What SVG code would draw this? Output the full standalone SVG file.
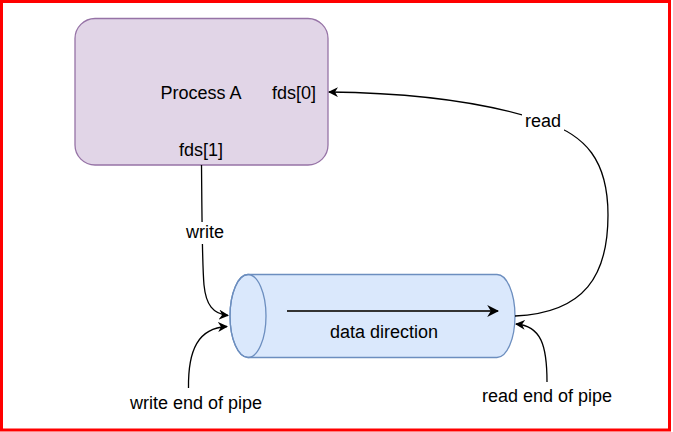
<svg xmlns="http://www.w3.org/2000/svg" width="673" height="432" viewBox="0 0 673 432">
  <style>
    text { font-family: "Liberation Sans", Arial, sans-serif; font-size: 18px; fill: #000; }
    .edge { fill: none; stroke: #000; stroke-width: 1.3; }
    .lbl { fill: #fff; stroke: none; }
  </style>
  <defs>
    <marker id="arrow" viewBox="0 0 10 10" refX="9" refY="5" markerWidth="10" markerHeight="10" markerUnits="userSpaceOnUse" orient="auto">
      <path d="M0,0 L10,5 L0,10 L3,5 Z" fill="#000"/>
    </marker>
    <marker id="arrowDark" viewBox="0 0 10 10" refX="9" refY="5" markerWidth="12" markerHeight="12" markerUnits="userSpaceOnUse" orient="auto">
      <path d="M0,0 L10,5 L0,10 L3,5 Z" fill="#000"/>
    </marker>
  </defs>

  <rect x="0" y="0" width="673" height="432" fill="#fff"/>
  <rect x="1.5" y="1.5" width="668" height="428.5" fill="none" stroke="#ff0000" stroke-width="3"/>

  <g id="process-a">
    <rect x="75" y="18.5" width="253" height="146.5" rx="20" ry="20" fill="#e1d5e7" stroke="#9673a6" stroke-width="1.3"/>
    <text x="201" y="99" text-anchor="middle">Process A</text>
    <text x="294" y="99" text-anchor="middle">fds[0]</text>
    <text x="201" y="156" text-anchor="middle">fds[1]</text>
  </g>

  <g id="pipe">
    <path d="M248,274.5 L497,274.5 A18,41.5 0 0 1 497,357.5 L248,357.5 A18,41.5 0 0 1 248,274.5 Z" fill="#dae8fc" stroke="#6c8ebf" stroke-width="1.3"/>
    <ellipse cx="248" cy="316" rx="18" ry="41.5" fill="none" stroke="#6c8ebf" stroke-width="1.3"/>
    <line x1="287" y1="311" x2="498" y2="311" stroke="#333" stroke-width="1.8" marker-end="url(#arrowDark)"/>
    <text x="384" y="338" text-anchor="middle">data direction</text>
  </g>

  <g id="write-end-label">
    <text x="196" y="409" text-anchor="middle">write end of pipe</text>
  </g>
  <g id="read-end-label">
    <text x="547" y="402" text-anchor="middle">read end of pipe</text>
  </g>

  <g id="connectors">
    <!-- fds[1] to pipe inlet -->
    <path class="edge" d="M201.5,165 C202,215 202,262 204,285 C206,305 213,314 228,315.5" marker-end="url(#arrow)"/>
    <rect class="lbl" x="184" y="222" width="42" height="22"/>
    <text x="205" y="238" text-anchor="middle">write</text>
    <!-- pipe outlet back to fds[0] -->
    <path class="edge" d="M515,316 C585,313 608,275 608,215 C608,160 585,135 545,122 C490,103 420,93 329,92" marker-end="url(#arrow)"/>
    <rect class="lbl" x="522" y="111" width="42" height="22"/>
    <text x="543" y="127" text-anchor="middle">read</text>
    <!-- write end of pipe pointer -->
    <path class="edge" d="M188.5,388 C188,350 198,328 227,326.5" marker-end="url(#arrow)"/>
    <!-- read end of pipe pointer -->
    <path class="edge" d="M547,382 C547,345 541,326 516,324" marker-end="url(#arrow)"/>
  </g>
</svg>
